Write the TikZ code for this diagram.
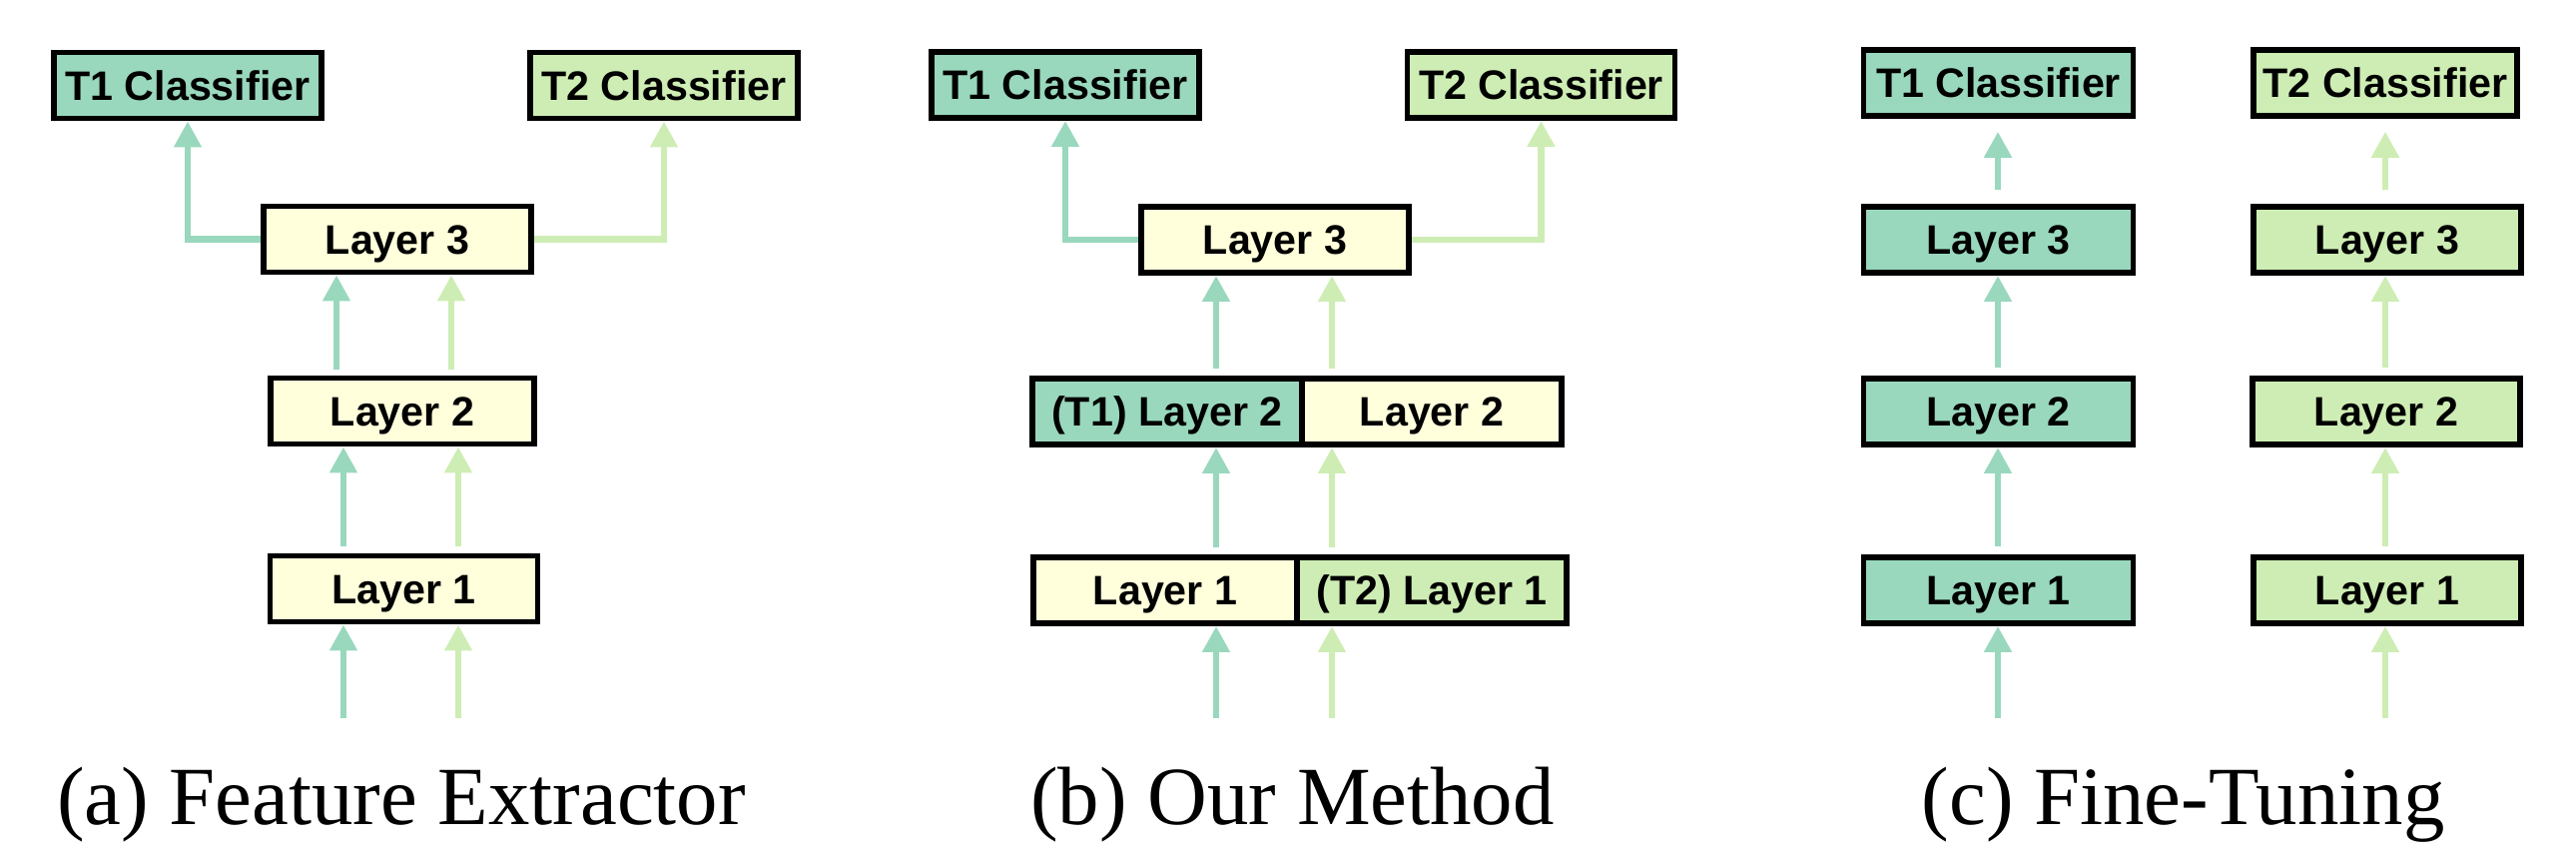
\documentclass[tikz,border=0pt]{standalone}
\usepackage{fontspec}
\setmainfont{Liberation Sans}
\newfontfamily\capfont{Liberation Serif}
\usetikzlibrary{arrows.meta,calc}
\definecolor{tone}{HTML}{99D8BD}
\definecolor{ttwo}{HTML}{CEEDB4}
\definecolor{shared}{HTML}{FFFFDC}
\tikzset{
  box/.style={draw=black, line width=1.375pt, inner sep=0pt,
    minimum height=16.6pt, minimum width=67.1pt,
    font=\bfseries\fontsize{10.3}{12}\selectfont,
    text height=7.4pt, text depth=0pt},
  boxone/.style={box, fill=tone},
  boxtwo/.style={box, fill=ttwo},
  boxsh/.style={box, fill=shared},
  arr/.style={line width=1.67pt, -{Triangle[width=6.6pt,length=6.5pt]}},
  arrone/.style={arr, draw=tone},
  arrtwo/.style={arr, draw=ttwo},
  captext/.style={font=\capfont\fontsize{20.7}{24}\selectfont, inner sep=0pt, anchor=base}
}
\begin{document}
\begin{tikzpicture}[x=0.25pt,y=-0.25pt]
\useasboundingbox (0,0) rectangle (2580,868);
\coordinate (yin) at (0,719);
% ---------------- (a) Feature Extractor
\node[boxone] (T1a) at (188,85.5) {T1 Classifier};
\node[boxtwo] (T2a) at (665,85.5) {T2 Classifier};
\node[boxsh] (L3a) at (398,239.5) {Layer 3};
\node[boxsh, minimum width=66.1pt] (L2a) at (403,411.5) {Layer 2};
\node[boxsh, minimum width=66.9pt] (L1a) at (404.5,589.5) {Layer 1};
\coordinate (xa1) at (337,0);
\coordinate (xa2) at (452,0);
\coordinate (xa3) at (344,0);
\coordinate (xa4) at (459,0);
\draw[arrone] (L3a.west) -| (T1a.south);
\draw[arrtwo] (L3a.east) -| (T2a.south);
\draw[arrone] ($(xa1 |- L2a.north)+(0,-6)$) -- (xa1 |- L3a.south);
\draw[arrtwo] ($(xa2 |- L2a.north)+(0,-6)$) -- (xa2 |- L3a.south);
\draw[arrone] ($(xa3 |- L1a.north)+(0,-7)$) -- (xa3 |- L2a.south);
\draw[arrtwo] ($(xa4 |- L1a.north)+(0,-7)$) -- (xa4 |- L2a.south);
\draw[arrone] (xa3 |- yin) -- (xa3 |- L1a.south);
\draw[arrtwo] (xa4 |- yin) -- (xa4 |- L1a.south);
\node[captext] (capa) at (402,825) {(a) Feature Extractor};
% ---------------- (b) Our Method
\node[boxone] (T1b) at (1067,85) {T1 Classifier};
\node[boxtwo] (T2b) at (1543.5,85) {T2 Classifier};
\node[boxsh] (L3b) at (1277,240) {Layer 3};
\node[boxone, minimum width=67.56pt] (L2bl) at (1168.9,412) {(T1) Layer 2};
\node[boxsh, minimum width=65.06pt] (L2br) at (1434.1,412) {Layer 2};
\node[boxsh, minimum width=65.94pt] (L1bl) at (1167.1,591) {Layer 1};
\node[boxtwo, minimum width=67.56pt] (L1br) at (1434.1,591) {(T2) Layer 1};
\coordinate (xb1) at (1218,0);
\coordinate (xb2) at (1334,0);
\draw[arrone] (L3b.west) -| (T1b.south);
\draw[arrtwo] (L3b.east) -| (T2b.south);
\draw[arrone] ($(xb1 |- L2bl.north)+(0,-7)$) -- (xb1 |- L3b.south);
\draw[arrtwo] ($(xb2 |- L2br.north)+(0,-7)$) -- (xb2 |- L3b.south);
\draw[arrone] ($(xb1 |- L1bl.north)+(0,-7)$) -- (xb1 |- L2bl.south);
\draw[arrtwo] ($(xb2 |- L1br.north)+(0,-7)$) -- (xb2 |- L2br.south);
\draw[arrone] (xb1 |- yin) -- (xb1 |- L1bl.south);
\draw[arrtwo] (xb2 |- yin) -- (xb2 |- L1br.south);
\node[captext] (capb) at (1294.5,825) {(b) Our Method};
% ---------------- (c) Fine-Tuning
\node[boxone, minimum width=67.4pt] (T1c) at (2001.5,83) {T1 Classifier};
\node[boxtwo, minimum width=66.1pt] (T2c) at (2389,83) {T2 Classifier};
\node[boxone, minimum width=67.4pt] (L3cl) at (2001.5,240) {Layer 3};
\node[boxtwo] (L3cr) at (2391,240) {Layer 3};
\node[boxone, minimum width=67.4pt] (L2cl) at (2001.5,412) {Layer 2};
\node[boxtwo] (L2cr) at (2390,412) {Layer 2};
\node[boxone, minimum width=67.4pt] (L1cl) at (2001.5,591) {Layer 1};
\node[boxtwo] (L1cr) at (2391,591) {Layer 1};
\coordinate (xc1) at (2001,0);
\coordinate (xc2) at (2389,0);
\draw[arrone, shorten >=3.2pt] ($(xc1 |- L3cl.north)+(0,-14)$) -- (xc1 |- T1c.south);
\draw[arrtwo, shorten >=3.2pt] ($(xc2 |- L3cr.north)+(0,-14)$) -- (xc2 |- T2c.south);
\draw[arrone] ($(xc1 |- L2cl.north)+(0,-8)$) -- (xc1 |- L3cl.south);
\draw[arrtwo] ($(xc2 |- L2cr.north)+(0,-8)$) -- (xc2 |- L3cr.south);
\draw[arrone] ($(xc1 |- L1cl.north)+(0,-8)$) -- (xc1 |- L2cl.south);
\draw[arrtwo] ($(xc2 |- L1cr.north)+(0,-8)$) -- (xc2 |- L2cr.south);
\draw[arrone] (xc1 |- yin) -- (xc1 |- L1cl.south);
\draw[arrtwo] (xc2 |- yin) -- (xc2 |- L1cr.south);
\node[captext] (capc) at (2186.5,825) {(c) Fine-Tuning};
\end{tikzpicture}
\end{document}
